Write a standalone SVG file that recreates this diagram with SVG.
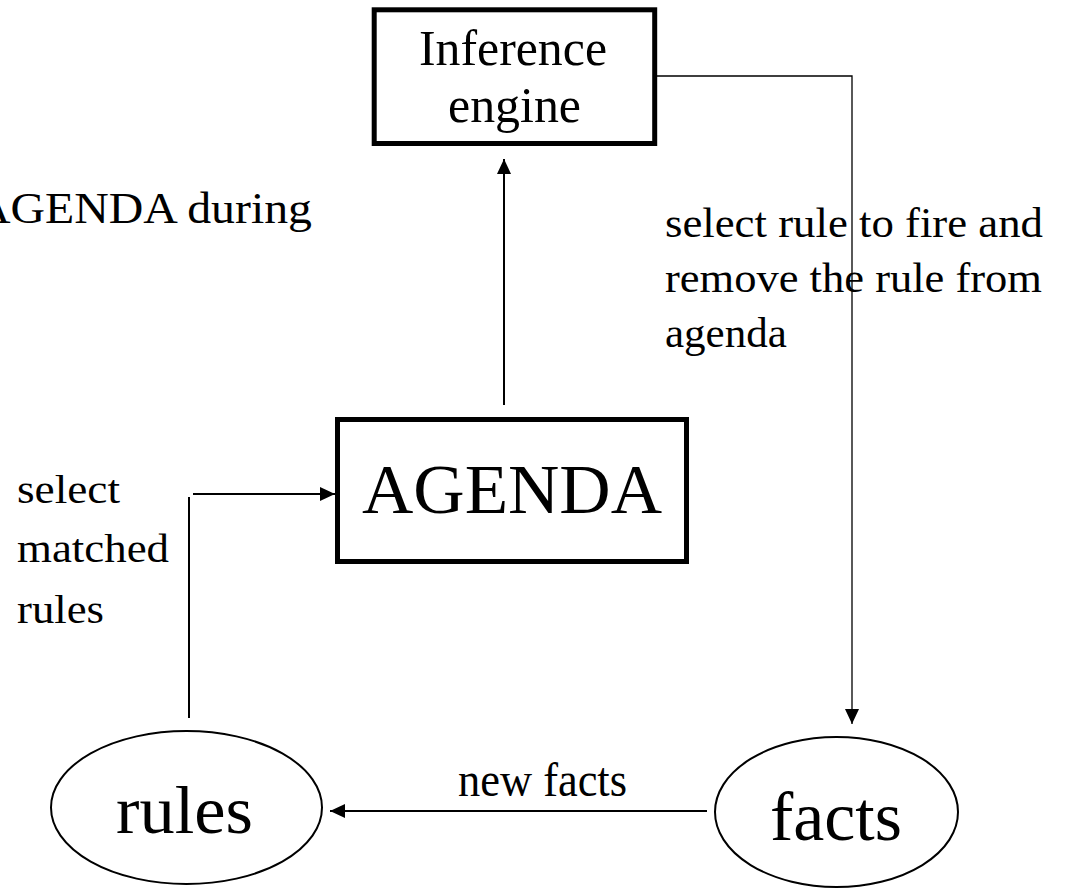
<svg xmlns="http://www.w3.org/2000/svg" width="1068" height="888" viewBox="0 0 1068 888">
<style>
text{font-family:"Liberation Serif","Times New Roman",serif;fill:#000}
.box{fill:#fff;stroke:#000;stroke-width:5}
.ell{fill:#fff;stroke:#000;stroke-width:2}
.c{fill:none;stroke:#000;stroke-width:2}
.thin{fill:none;stroke:#000;stroke-width:1.3}
</style>
<defs>
<marker id="ah" markerUnits="userSpaceOnUse" markerWidth="16" markerHeight="14" refX="15" refY="7" orient="auto">
<path d="M0,0 L15,7 L0,14 z" fill="#000"/>
</marker>
</defs>
<rect width="1068" height="888" fill="#fff"/>
<g id="connectors">
<polyline class="thin" points="657,76 852,76 852,724" marker-end="url(#ah)"/>
<line class="c" x1="504" y1="405" x2="504" y2="159" marker-end="url(#ah)"/>
<line class="c" x1="189" y1="718" x2="189" y2="497"/>
<line class="c" x1="193" y1="494" x2="335" y2="494" marker-end="url(#ah)"/>
<line class="c" x1="707" y1="811" x2="330" y2="811" marker-end="url(#ah)"/>
</g>
<g id="inference">
<rect class="box" x="374.2" y="9.8" width="280.5" height="133.7"/>
<text x="419" y="65" font-size="50" textLength="188" lengthAdjust="spacingAndGlyphs">Inference</text>
<text x="448" y="122" font-size="50" textLength="133" lengthAdjust="spacingAndGlyphs">engine</text>
</g>
<g id="agenda">
<rect class="box" x="337.5" y="419.5" width="349" height="142"/>
<text x="362" y="513" font-size="69" textLength="300" lengthAdjust="spacingAndGlyphs">AGENDA</text>
</g>
<g id="rules">
<ellipse class="ell" cx="186.5" cy="807.5" rx="135.5" ry="76.5"/>
<text x="116" y="833" font-size="68" textLength="137" lengthAdjust="spacingAndGlyphs">rules</text>
</g>
<g id="facts">
<ellipse class="ell" cx="836.5" cy="812" rx="121.5" ry="75"/>
<text x="770" y="840" font-size="70" textLength="132" lengthAdjust="spacingAndGlyphs">facts</text>
</g>
<g id="labels">
<text x="-24" y="223" font-size="45" textLength="336" lengthAdjust="spacingAndGlyphs">AGENDA during</text>
<text x="665" y="237" font-size="43" textLength="378" lengthAdjust="spacingAndGlyphs">select rule to fire and</text>
<text x="665" y="292" font-size="43" textLength="377" lengthAdjust="spacingAndGlyphs">remove the rule from</text>
<text x="665" y="347" font-size="43">agenda</text>
<text x="17" y="503" font-size="41" textLength="103" lengthAdjust="spacingAndGlyphs">select</text>
<text x="17" y="562" font-size="41" textLength="152" lengthAdjust="spacingAndGlyphs">matched</text>
<text x="17" y="623" font-size="41" textLength="87" lengthAdjust="spacingAndGlyphs">rules</text>
<text x="458" y="796" font-size="48" textLength="169" lengthAdjust="spacingAndGlyphs">new facts</text>
</g>
</svg>
